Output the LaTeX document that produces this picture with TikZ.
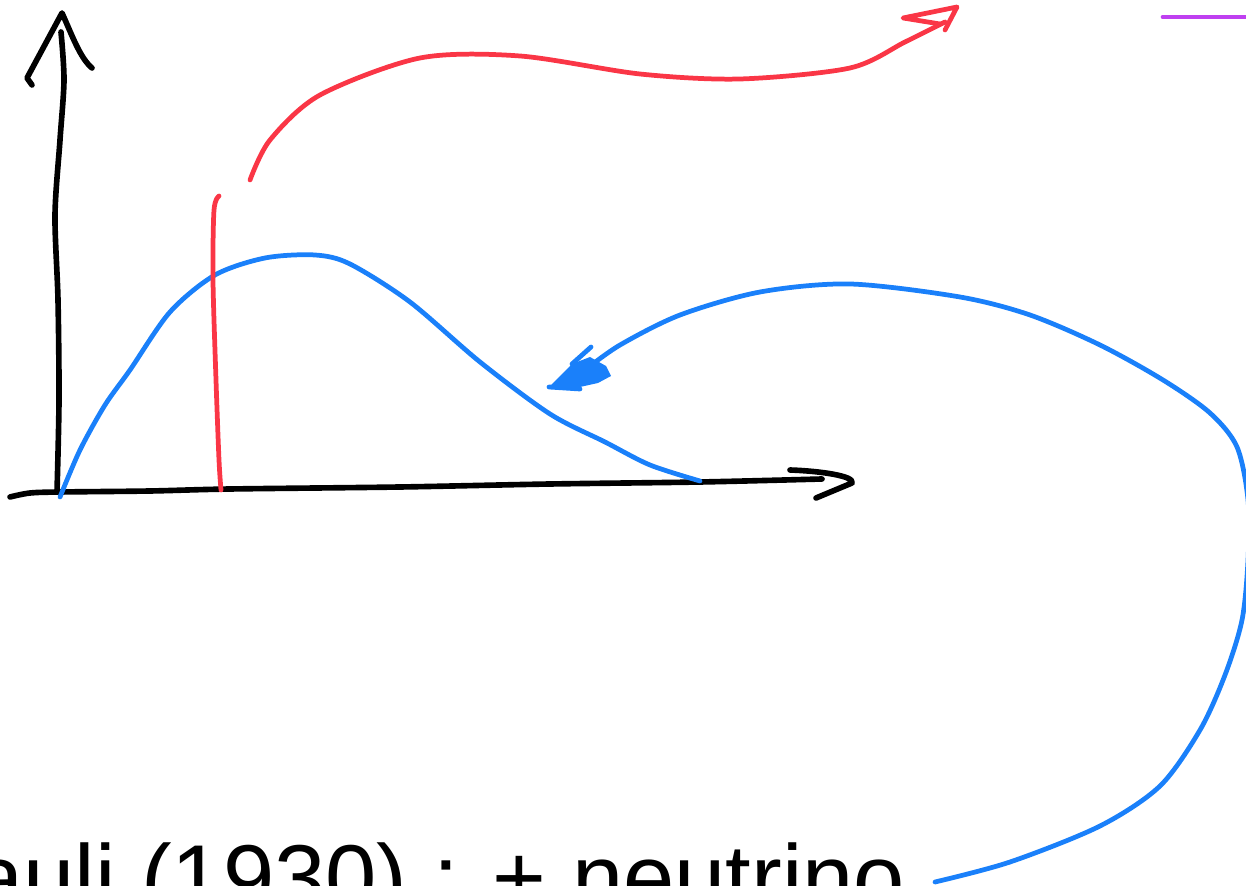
\documentclass[tikz,border=0pt]{standalone}
\usepackage{fontspec}
\setmainfont{Liberation Sans}
\definecolor{skred}{HTML}{FA3646}
\definecolor{skblue}{HTML}{1A80FA}
\definecolor{skpurple}{HTML}{BF40F0}
\begin{document}
\begin{tikzpicture}[x=0.01cm,y=-0.01cm,line cap=round,line join=round,
  ink/.style={line width=1.6pt,black},
  redpen/.style={line width=1.35pt,skred},
  bluepen/.style={line width=1.35pt,skblue},
  purplepen/.style={line width=1.35pt,skpurple}]
\useasboundingbox (0,0) rectangle (1246,886);
\clip (0,0) rectangle (1246,886);
% y axis
\draw[ink] plot[smooth] coordinates {(57,492) (59,400) (58,300) (55,215) (60,140) (64,80) (61,32)};
\draw[ink] (32,85) -- (27,78) -- (62,13) .. controls (72,35) and (80,58) .. (92,68);
% x axis
\draw[ink] plot[smooth] coordinates {(10,497) (30,493) (60,492) (150,491) (230,489) (400,487) (550,484) (700,482) (822,479)};
\draw[ink] (790,470) .. controls (820,471) and (855,476) .. (852,483) -- (816,498);
% blue spectrum
\draw[bluepen] plot[smooth] coordinates {(60,497) (80,450) (105,405) (130,370) (170,312) (215,275) (265,258) (315,255) (350,264) (410,302) (480,362) (550,414) (605,442) (650,465) (700,481)};
% red vertical
\draw[redpen] plot[smooth] coordinates {(219,196) (214,210) (213,280) (216,380) (219,460) (221,490)};
% red arrow
\draw[redpen] plot[smooth] coordinates {(250,180) (270,140) (320,95) (420,58) (520,56) (640,74) (740,79) (850,68) (905,42) (945,22)};
\draw[redpen] (940,24) -- (903,18) -- (957,7) -- (945,30);
% purple
\draw[purplepen] (1163,17) -- (1250,17);
% blue big arrow
\draw[bluepen] plot[smooth] coordinates {(935,882) (1010,862) (1100,826) (1160,786) (1200,730) (1225,675) (1242,620) (1248,560) (1248,500) (1237,447) (1210,413) (1163,380) (1100,345) (1030,315) (960,297) (850,284) (760,292) (680,315) (620,345) (585,370)};
\fill[skblue] (549,387) -- (572,364) -- (590,357) -- (606,366) -- (611,376) -- (598,383) -- (580,387) -- cycle;
\draw[bluepen] (572,364) -- (591,347);
\draw[bluepen] (549,387) -- (580,389);
% text
\node[anchor=base east,inner sep=0pt,font=\fontsize{26.2}{30}\selectfont] (pauli) at (906,909) {auli (1930) : + neutrino};
\end{tikzpicture}
\end{document}
